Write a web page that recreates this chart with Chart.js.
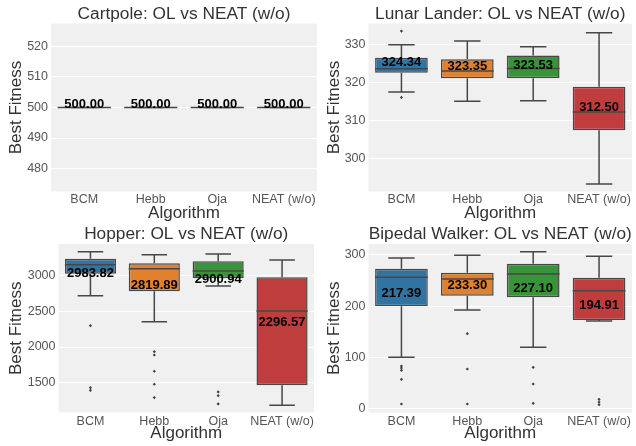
<!DOCTYPE html>
<html>
<head>
<meta charset="utf-8">
<title>OL vs NEAT (w/o)</title>
<script src="https://cdn.jsdelivr.net/npm/chart.js@4.4.1/dist/chart.umd.min.js"></script>
<style>
  body { margin: 0; background: #fff; }
  #grid { position: relative; width: 636px; height: 446px; }
  #grid canvas { position: absolute; }
</style>
</head>
<body>
<div id="grid">
  <canvas id="cartpole" width="318" height="223" style="left:0;top:0"></canvas>
  <canvas id="lunar" width="318" height="223" style="left:318px;top:0"></canvas>
  <canvas id="hopper" width="318" height="223" style="left:0;top:223px"></canvas>
  <canvas id="bipedal" width="318" height="223" style="left:318px;top:223px"></canvas>
</div>
<script>
var algorithms = ['BCM', 'Hebb', 'Oja', 'NEAT (w/o)'];
var boxColors = ['#3274a1', '#e1812c', '#3a923a', '#c03d3e'];

// Cartpole: every run hits the 500 ceiling
var cartpoleLow = [500, 500, 500, 500];
var cartpoleQ1 = [500, 500, 500, 500];
var cartpoleMedian = [500, 500, 500, 500];
var cartpoleQ3 = [500, 500, 500, 500];
var cartpoleHigh = [500, 500, 500, 500];
var cartpoleOutliers = [[], [], [], []];
var cartpoleMeans = [500.00, 500.00, 500.00, 500.00];
var cartpoleTicks = [480, 490, 500, 510, 520];

// Lunar Lander
var lunarLow = [317.5, 315.1, 315.2, 293.4];
var lunarQ1 = [322.6, 321.1, 321.1, 307.5];
var lunarMedian = [323.6, 323.0, 323.7, 312.3];
var lunarQ3 = [326.5, 326.1, 327.1, 318.9];
var lunarHigh = [329.9, 330.9, 329.4, 333.1];
var lunarOutliers = [[333.5, 316.1], [], [], []];
var lunarMeans = [324.34, 323.35, 323.53, 312.50];
var lunarTicks = [300, 310, 320, 330];

// Hopper
var hopperLow = [2720, 2355, 2856, 1184];
var hopperQ1 = [3028, 2781, 2964, 1464];
var hopperMedian = [3154, 3098, 3066, 2505];
var hopperQ3 = [3238, 3174, 3202, 2978];
var hopperHigh = [3336, 3294, 3304, 3220];
var hopperOutliers = [[2299, 1430, 1393], [1934, 1888, 1660, 1478, 1291], [1370, 1318, 1202], []];
var hopperMeans = [2983.82, 2819.89, 2900.94, 2296.57];
var hopperTicks = [1500, 2000, 2500, 3000];

// Bipedal Walker
var bipedalLow = [99.8, 192.4, 119.4, 170.8];
var bipedalQ1 = [199.6, 220.4, 217.2, 172.8];
var bipedalMedian = [256.4, 253.0, 262.8, 230.1];
var bipedalQ3 = [273.2, 265.4, 283.0, 255.6];
var bipedalHigh = [294.1, 299.4, 306.5, 297.5];
var bipedalOutliers = [[82.8, 78.9, 74.4, 56.8, 8.4], [146.0, 76.9, 8.4], [80.2, 47.6, 9.8], [17.6, 12.3, 7.1]];
var bipedalMeans = [217.39, 233.30, 227.10, 194.91];
var bipedalTicks = [0, 100, 200, 300];

Chart.defaults.font.family = '"Liberation Sans", Arial, sans-serif';

var lineGray = '#474747';

// grey panel behind the grid, like the ggplot style
var plotBackground = {
  id: 'plotBackground',
  beforeDraw: function(chart) {
    var a = chart.chartArea;
    var ctx = chart.ctx;
    ctx.save();
    ctx.fillStyle = '#f0f0f0';
    ctx.fillRect(a.left, a.top, a.right - a.left, a.bottom - a.top);
    ctx.restore();
  }
};

// mean value written above each box, text baseline sitting on the mean
var meanLabels = {
  id: 'meanLabels',
  afterDatasetsDraw: function(chart, args, opts) {
    var ctx = chart.ctx;
    var xs = chart.scales.x;
    var ys = chart.scales.y;
    ctx.save();
    ctx.font = 'bold 13px "Liberation Sans", Arial, sans-serif';
    ctx.fillStyle = '#000';
    ctx.textAlign = 'center';
    ctx.textBaseline = 'alphabetic';
    opts.values.forEach(function(v, i) {
      ctx.fillText(v.toFixed(2), xs.getPixelForValue(i), ys.getPixelForValue(v));
    });
    ctx.restore();
  }
};

function boxPanel(id, title, low, q1, median, q3, high, outliers, means, ticks, yMin, yMax, frame) {
  var boxes = [], whiskers = [], medians = [], fliers = [];
  algorithms.forEach(function(name, i) {
    boxes.push({ x: i, y: [q1[i], q3[i]] });
    whiskers.push({ x: i, y: q3[i] }, { x: i, y: high[i] }, { x: i, y: null });
    whiskers.push({ x: i, y: q1[i] }, { x: i, y: low[i] }, { x: i, y: null });
    whiskers.push({ x: i - 0.2, y: high[i] }, { x: i + 0.2, y: high[i] }, { x: i, y: null });
    whiskers.push({ x: i - 0.2, y: low[i] }, { x: i + 0.2, y: low[i] }, { x: i, y: null });
    medians.push({ x: i - 0.4, y: median[i] }, { x: i + 0.4, y: median[i] }, { x: i, y: null });
    outliers[i].forEach(function(v) { fliers.push({ x: i, y: v }); });
  });

  return new Chart(document.getElementById(id), {
    type: 'bar',
    data: {
      datasets: [
        {
          type: 'bar',
          xAxisID: 'x',
          data: boxes,
          backgroundColor: boxColors,
          borderColor: lineGray,
          borderWidth: 1.5,
          borderSkipped: false,
          barPercentage: 0.8,
          categoryPercentage: 1,
          order: 3
        },
        {
          type: 'line',
          xAxisID: 'x',
          data: whiskers,
          borderColor: lineGray,
          borderWidth: 1.5,
          pointRadius: 0,
          spanGaps: false,
          order: 2
        },
        {
          type: 'line',
          xAxisID: 'x',
          data: medians,
          borderColor: lineGray,
          borderWidth: 1.5,
          pointRadius: 0,
          spanGaps: false,
          order: 1
        },
        {
          type: 'scatter',
          xAxisID: 'x',
          data: fliers,
          pointStyle: 'rectRot',
          pointRadius: 1.6,
          backgroundColor: '#3f3f3f',
          borderWidth: 0,
          order: 2
        }
      ]
    },
    options: {
      responsive: false,
      animation: false,
      events: [],
      layout: { padding: { left: 0, right: frame.right, top: 0, bottom: 0 } },
      plugins: {
        legend: { display: false },
        tooltip: { enabled: false },
        meanLabels: { values: means }
      },
      scales: {
        x: {
          type: 'linear',
          min: -0.5,
          max: 3.5,
          offset: false,
          grid: { display: false, drawTicks: false },
          border: { display: false },
          afterBuildTicks: function(s) {
            s.ticks = algorithms.map(function(n, i) { return { value: i }; });
          },
          afterFit: function(s) {
            s.height = frame.xHeight;
            s.paddingLeft = 0;
            s.paddingRight = 0;
          },
          ticks: {
            padding: frame.tickPad,
            color: '#555',
            font: { size: 12.5 },
            maxRotation: 0,
            autoSkip: false,
            callback: function(v) { return algorithms[v]; }
          },
          title: {
            display: true,
            text: 'Algorithm',
            color: '#333',
            font: { size: 17, lineHeight: 1 },
            padding: { top: 0, bottom: frame.xTitlePad }
          }
        },
        // empty top axis that only carries the panel title, centred over the plot area
        panelTitle: {
          type: 'linear',
          position: 'top',
          min: 0,
          max: 1,
          grid: { display: false, drawTicks: false },
          border: { display: false },
          ticks: { display: false },
          afterFit: function(s) {
            s.height = frame.titleHeight;
            s.paddingLeft = 0;
            s.paddingRight = 0;
          },
          title: {
            display: true,
            text: title,
            color: '#333',
            font: { size: 17.3, lineHeight: 1 },
            padding: { top: frame.titleTop, bottom: 0 }
          }
        },
        y: {
          min: yMin,
          max: yMax,
          grid: { color: '#ffffff', lineWidth: 1, drawTicks: false },
          border: { display: false },
          afterBuildTicks: function(s) {
            s.ticks = ticks.map(function(v) { return { value: v }; });
          },
          afterFit: function(s) { s.width = frame.yWidth; },
          ticks: {
            padding: 3,
            color: '#555',
            font: { size: 12.5 },
            callback: function(v) { return String(v); }
          },
          title: {
            display: true,
            text: 'Best Fitness',
            color: '#333',
            font: { size: 17, lineHeight: 1 },
            padding: { top: 7.5, bottom: 0 }
          }
        }
      }
    },
    plugins: [plotBackground, meanLabels]
  });
}

var topRow = { titleHeight: 23.5, titleTop: 5.4, xHeight: 31.5, tickPad: 1, xTitlePad: 0.7 };
var bottomRow = { titleHeight: 21, titleTop: 2.1, xHeight: 33.5, tickPad: 1.5, xTitlePad: 3.7 };

boxPanel('cartpole', 'Cartpole: OL vs NEAT (w/o)',
  cartpoleLow, cartpoleQ1, cartpoleMedian, cartpoleQ3, cartpoleHigh, cartpoleOutliers, cartpoleMeans,
  cartpoleTicks, 472.5, 527.5, Object.assign({ yWidth: 51, right: 1 }, topRow));

boxPanel('lunar', 'Lunar Lander: OL vs NEAT (w/o)',
  lunarLow, lunarQ1, lunarMedian, lunarQ3, lunarHigh, lunarOutliers, lunarMeans,
  lunarTicks, 291.4, 335.5, Object.assign({ yWidth: 50.5, right: 0 }, topRow));

boxPanel('hopper', 'Hopper: OL vs NEAT (w/o)',
  hopperLow, hopperQ1, hopperMedian, hopperQ3, hopperHigh, hopperOutliers, hopperMeans,
  hopperTicks, 1082, 3444, Object.assign({ yWidth: 58.5, right: 1 }, bottomRow));

boxPanel('bipedal', 'Bipedal Walker: OL vs NEAT (w/o)',
  bipedalLow, bipedalQ1, bipedalMedian, bipedalQ3, bipedalHigh, bipedalOutliers, bipedalMeans,
  bipedalTicks, -8.2, 321.5, Object.assign({ yWidth: 50.5, right: 0 }, bottomRow));
</script>
</body>
</html>
